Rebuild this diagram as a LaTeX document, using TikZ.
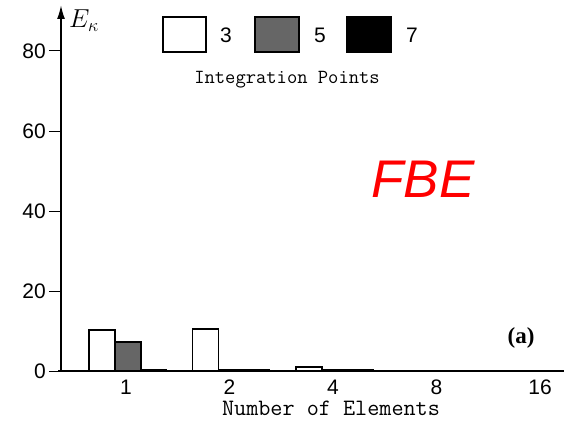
\RequirePackage{fix-cm}
\documentclass[tikz,border=0pt]{standalone}
\usepackage{fontspec}
\newfontfamily\numfont{Liberation Sans}
\newfontfamily\capfont{Liberation Serif}
\usetikzlibrary{arrows.meta}
\definecolor{shadegray}{gray}{0.40}
\tikzset{
  axisline/.style={line width=1.8pt},
  barbox/.style={draw=black, line width=1.1pt},
  numlab/.style={font=\numfont\fontsize{21}{21}\selectfont, inner sep=1pt},
  ttlab/.style={font=\ttfamily\fontsize{#1}{#1}\selectfont, inner sep=1pt},
}
\begin{document}
\begin{tikzpicture}[x=1pt, y=4pt]
\useasboundingbox (-61,-12.5) rectangle (503,92.75);
%%%% Axes:
\draw[axisline,-{Latex[length=14pt,width=8pt]}] (0,0) -- (0,91.5);
\draw[axisline] (-3,0) -- (503,0);
\node (ylab) at (23,87.5) {\fontsize{26}{26}\selectfont$E_\kappa$};
%%%% y ticks and labels
\foreach \y in {0,20,40,60,80}{
  \draw[line width=1pt] (-12,\y) -- (0,\y);
  \node[numlab, anchor=east] (yl\y) at (-14,\y) {\y};
}
%%%% Bars: white, shaded, black
\foreach \i/\w/\s/\b/\n in {0/10.25/7.25/0.4/1, 1/10.5/0.3/0.3/2, 2/1.0/0.25/0.25/4, 3/0.15/0.2/0.2/8, 4/0.1/0.1/0.1/16}{
  \draw[barbox, fill=white] (28+103.5*\i,0) rectangle (54+103.5*\i,\w);
  \draw[barbox, fill=shadegray] (54+103.5*\i,0) rectangle (80+103.5*\i,\s);
  \draw[barbox, fill=black] (80+103.5*\i,0) rectangle (105+103.5*\i,\b);
  \node[numlab] (xl\n) at (65+103.5*\i,-4.1) {\n};
}
\node[ttlab=23.5] (xtitle) at (270,-9.4) {Number of Elements};
%%%% Legend
\draw[barbox, fill=white] (102,79.75) rectangle (145,88.5);
\node[numlab] (lg3) at (165,84) {3};
\draw[barbox, fill=shadegray] (194,79.75) rectangle (238,88.5);
\node[numlab] (lg5) at (259,84) {5};
\draw[barbox, fill=black] (286,79.75) rectangle (330,88.5);
\node[numlab] (lg7) at (351,84) {7};
\node[ttlab=20] (lgtitle) at (226,72.75) {Integration Points};
%%%% Labels
\node[text=red, font=\numfont\itshape\fontsize{53}{53}\selectfont] (fbe) at (362,48) {FBE};
\node[font=\capfont\bfseries\fontsize{23}{23}\selectfont] (tag) at (460,8.25) {(a)};
\end{tikzpicture}
\end{document}
